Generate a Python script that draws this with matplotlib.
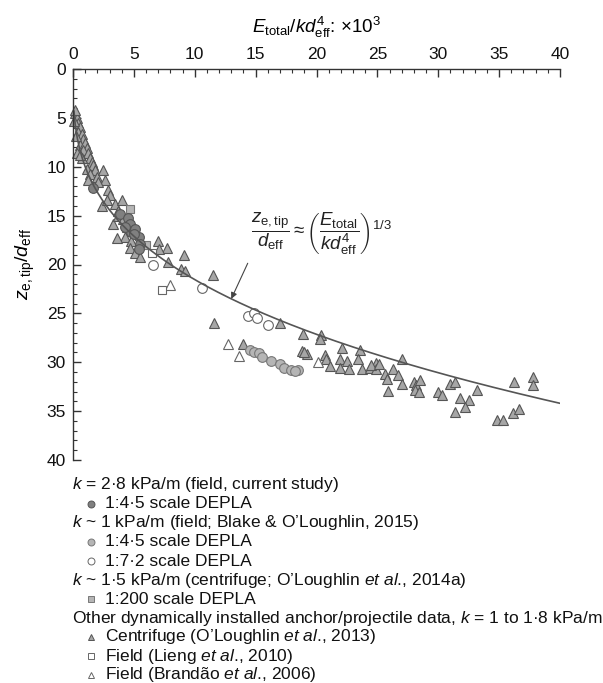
import numpy as np
import matplotlib
matplotlib.use("Agg")
import matplotlib.pyplot as plt
from matplotlib.lines import Line2D

plt.rcParams['font.family'] = ['Liberation Sans', 'DejaVu Sans']
plt.rcParams['mathtext.fontset'] = 'custom'
plt.rcParams['mathtext.rm'] = 'Liberation Sans'
plt.rcParams['mathtext.it'] = 'Liberation Sans:italic'
plt.rcParams['mathtext.bf'] = 'Liberation Sans:bold'

# k = 2.8 kPa/m, field, current study (1:4.5 DEPLA)
cur_x = [1.67, 3.86, 4.55, 4.7, 4.8, 5.1, 5.4, 5.5, 4.3, 5.0, 5.4]
cur_y = [12.2, 14.8, 15.2, 15.9, 16.7, 16.4, 17.2, 17.9, 16.2, 16.9, 18.4]

# k ~ 1 kPa/m, Blake & O'Loughlin 2015, 1:4.5 DEPLA
bl45_x = [14.5, 14.9, 15.3, 15.5, 16.3, 17.0, 17.3, 17.9, 18.5, 18.2]
bl45_y = [28.7, 29.0, 29.1, 29.5, 29.9, 30.2, 30.6, 30.8, 30.8, 30.9]

# 1:7.2 DEPLA
bl72_x = [6.6, 10.6, 14.4, 14.9, 15.1, 16.0]
bl72_y = [20.0, 22.4, 25.3, 25.0, 25.5, 26.2]

# k ~ 1.5 kPa/m centrifuge, 1:200 DEPLA
c200_x = [4.7, 6.0]
c200_y = [14.3, 18.0]

# centrifuge (O'Loughlin et al., 2013)
cen_x = [0.16, 0.3, 0.44, 0.57, 0.44, 0.71, 0.85, 0.57, 0.99, 1.12, 0.85, 1.26,
         1.4, 0.71, 1.53, 1.67, 1.12, 1.8, 1.4, 1.94, 2.49, 2.63, 2.08, 1.26,
         2.9, 3.04, 2.35, 2.76, 3.45, 4.0, 3.73, 3.3, 3.73, 4.1, 4.4, 4.7,
         4.3, 4.8, 4.7, 5.1, 7.0, 7.7, 7.1, 7.8, 9.1, 8.9, 9.2, 11.5,
         0.1, 0.25, 0.3, 0.6, 0.15, 3.6, 5.5,
         11.6, 14.0, 17.0, 18.9, 20.4, 20.3, 22.1, 23.6, 18.8, 19.2, 19.0, 20.7,
         20.8, 21.9, 22.5, 23.4, 24.9, 21.1, 21.9, 22.7, 23.7, 24.4, 24.9,
         24.5, 25.1, 25.6, 26.3, 26.7, 25.8, 27.0, 25.9, 27.0, 28.0, 28.2, 28.5,
         28.1, 28.4, 30.0, 30.3, 31.0, 31.4, 33.2, 31.8, 32.5, 32.2, 31.4, 36.2,
         37.8, 37.75, 34.8, 35.3, 36.1, 36.6]
cen_y = [4.5, 5.0, 5.5, 5.9, 6.4, 6.7, 7.2, 7.8, 7.6, 8.1, 8.3, 8.6,
         9.1, 9.1, 9.5, 9.8, 10.2, 10.3, 10.7, 11.0, 10.3, 11.4, 11.6, 11.4,
         12.4, 12.9, 14.0, 13.4, 13.8, 13.4, 14.5, 15.9, 15.0, 15.3, 16.2, 16.6,
         17.2, 17.6, 18.3, 18.8, 17.6, 18.3, 18.4, 19.7, 19.0, 20.5, 20.7, 21.1,
         5.3, 6.9, 8.6, 8.8, 4.2, 17.3, 19.2,
         26.0, 28.1, 26.0, 27.1, 27.2, 27.6, 28.5, 28.7, 28.8, 29.2, 29.0, 29.3,
         29.7, 29.7, 29.9, 29.7, 30.1, 30.4, 30.6, 30.7, 30.7, 30.6, 30.7,
         30.3, 30.2, 31.2, 30.7, 31.3, 31.7, 32.2, 32.9, 29.7, 32.0, 32.3, 31.8,
         32.8, 33.0, 33.0, 33.3, 32.2, 32.0, 32.8, 33.7, 33.9, 34.6, 35.1, 32.0,
         31.5, 32.3, 35.9, 35.9, 35.2, 34.8]

# field (Lieng et al., 2010)
lie_x = [7.3, 6.5]
lie_y = [22.6, 18.8]

# field (Brandao et al., 2006)
bra_x = [8.0, 12.7, 13.6, 20.1]
bra_y = [22.1, 28.1, 29.4, 30.0]


def curve(x):
    return (1000.0 * x) ** (1.0 / 3.0)


W, H = 603, 683
fig = plt.figure(figsize=(W / 100, H / 100), dpi=100)
ax = fig.add_axes([73 / W, 1 - 460 / H, (560 - 73) / W, (460 - 69) / H])

ax.plot(cen_x, cen_y, marker='^', ms=7, mfc='#a6a6a6', mec='#555555', mew=0.8, ls='none', clip_on=False)
ax.plot(bra_x, bra_y, marker='^', ms=7, mfc='white', mec='#666666', mew=0.8, ls='none')
ax.plot(lie_x, lie_y, marker='s', ms=6, mfc='white', mec='#666666', mew=0.8, ls='none')
ax.plot(c200_x, c200_y, marker='s', ms=6, mfc='#b5b5b5', mec='#777777', mew=0.8, ls='none')
ax.plot(bl72_x, bl72_y, marker='o', ms=7, mfc='white', mec='#666666', mew=0.8, ls='none')
ax.plot(bl45_x, bl45_y, marker='o', ms=7, mfc='#b5b5b5', mec='#777777', mew=0.8, ls='none')
ax.plot(cur_x, cur_y, marker='o', ms=7, mfc='#808080', mec='#555555', mew=0.8, ls='none')

xc = np.linspace(0.08, 40, 400)
ax.plot(xc, curve(xc), color='#555555', lw=1.2)

ax.annotate(r'$\dfrac{z_{\mathrm{e,tip}}}{d_{\mathrm{eff}}}\approx\left(\dfrac{E_{\mathrm{total}}}{kd_{\mathrm{eff}}^{4}}\right)^{1/3}$',
            xy=(13.0, curve(13.0)), xytext=(14.6, 16.8), fontsize=13.5,
            ha='left', va='center', color='#222222',
            arrowprops=dict(arrowstyle='-|>', color='#444444', lw=0.8,
                            mutation_scale=9, relpos=(0.0, 0.0), shrinkA=3, shrinkB=0))

ax.set_xlim(0, 40)
ax.set_ylim(40, 0)
ax.spines['bottom'].set_visible(False)
ax.spines['right'].set_visible(False)
for s in ('top', 'left'):
    ax.spines[s].set_color('#333333')
    ax.spines[s].set_linewidth(1.0)
ax.xaxis.tick_top()
ax.xaxis.set_label_position('top')
ax.set_xticks(np.arange(0, 41, 5))
ax.set_yticks(np.arange(0, 41, 5))
ax.set_xticks(np.arange(0, 41, 1), minor=True)
ax.set_yticks(np.arange(0, 41, 1), minor=True)
ax.tick_params(which='both', direction='in', colors='#333333', labelsize=12.5)
ax.tick_params(which='major', length=6, width=1.0, pad=5)
ax.tick_params(which='minor', length=3, width=0.8)
ax.tick_params(axis='both', labelcolor='#111111')

ax.set_xlabel(r'$E_{\mathrm{total}}/kd_{\mathrm{eff}}^{4}$: $\times$10$^{3}$', fontsize=13.5, labelpad=10)
ax.set_ylabel(r'$z_{\mathrm{e,tip}}/d_{\mathrm{eff}}$', fontsize=14, labelpad=7)

# legend block below the axes
leg_rows = [
    ('head', r'$k$ = 2·8 kPa/m (field, current study)', None),
    ('item', '1:4·5 scale DEPLA', dict(marker='o', mfc='#808080', mec='#555555')),
    ('head', r'$k$ ~ 1 kPa/m (field; Blake & O’Loughlin, 2015)', None),
    ('item', '1:4·5 scale DEPLA', dict(marker='o', mfc='#b5b5b5', mec='#777777')),
    ('item', '1:7·2 scale DEPLA', dict(marker='o', mfc='white', mec='#666666')),
    ('head', r'$k$ ~ 1·5 kPa/m (centrifuge; O’Loughlin $et\ al$., 2014a)', None),
    ('item', '1:200 scale DEPLA', dict(marker='s', mfc='#b5b5b5', mec='#777777')),
    ('head', r'Other dynamically installed anchor/projectile data, $k$ = 1 to 1·8 kPa/m', None),
    ('item', r'Centrifuge (O’Loughlin $et\ al$., 2013)', dict(marker='^', mfc='#a6a6a6', mec='#555555')),
    ('item', r'Field (Lieng $et\ al$., 2010)', dict(marker='s', mfc='white', mec='#666666')),
    ('item', r'Field (Brandão $et\ al$., 2006)', dict(marker='^', mfc='white', mec='#666666')),
]
y0, dy = 485, 19
for i, (kind, label, mk) in enumerate(leg_rows):
    yf = 1 - (y0 + i * dy) / H
    if kind == 'head':
        fig.text(72 / W, yf, label, fontsize=12.5, va='center', ha='left', color='#111111')
    else:
        fig.add_artist(Line2D([91 / W], [yf], transform=fig.transFigure, ls='none',
                              ms=5, mew=0.7, **mk))
        fig.text(105 / W, yf, label, fontsize=12.5, va='center', ha='left', color='#111111')

fig.savefig('out.png', dpi=100)
